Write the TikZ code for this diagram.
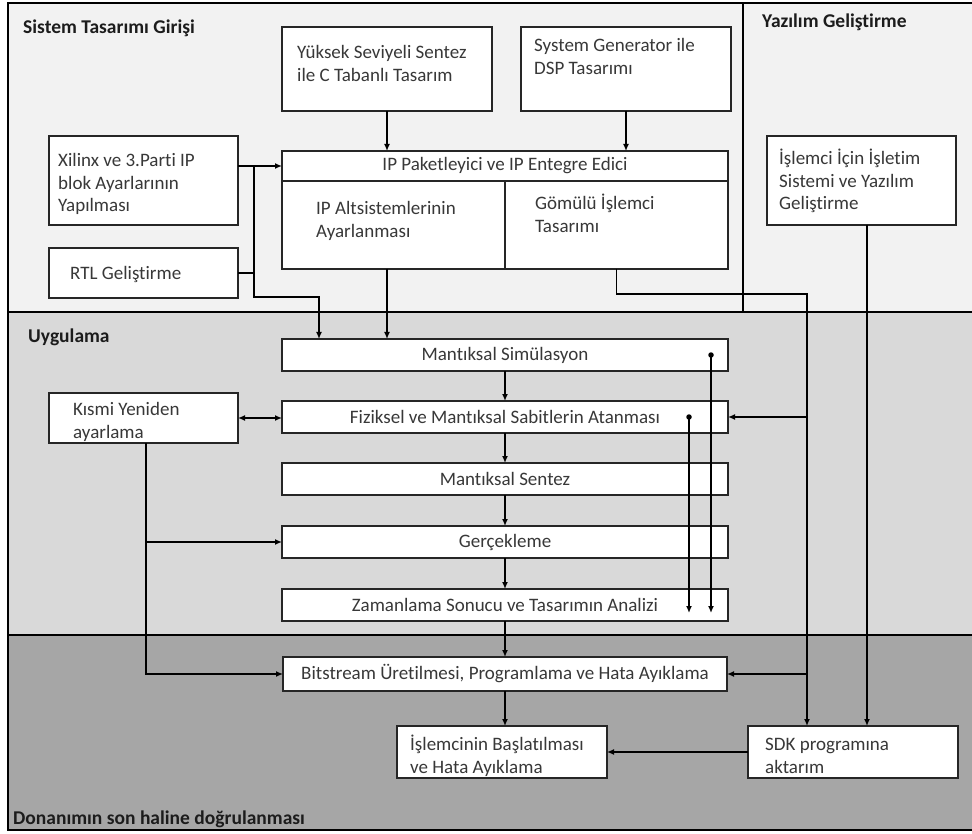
\documentclass[tikz,border=0pt]{standalone}
\usepackage{fontspec}
\setmainfont{Carlito}[Ligatures=NoCommon]
\usetikzlibrary{arrows.meta,calc}
\definecolor{topbg}{HTML}{F2F2F2}
\definecolor{midbg}{HTML}{D9D9D9}
\definecolor{botbg}{HTML}{A6A6A6}
\definecolor{boxtext}{HTML}{383838}
\definecolor{headtext}{HTML}{1C1C1C}
\newcommand\bodysize{\fontsize{19}{22.5}\selectfont}
\newcommand\headsize{\fontsize{19.5}{22}\selectfont\bfseries}

\begin{document}
\begin{tikzpicture}[x=1pt,y=-1pt,
  box/.style={draw=black!85,line width=1.4pt,fill=white,inner sep=0pt,outer sep=0pt,anchor=north west},
  boxtxt/.style={font=\bodysize,text=boxtext,align=left,anchor=north west,inner sep=0pt},
  ctrtxt/.style={font=\bodysize,text=boxtext,inner sep=0pt},
  head/.style={font=\headsize,text=headtext,anchor=west,inner sep=0pt},
  link/.style={line width=1.6pt,draw=black},
  arr/.style={link,-{Latex[length=7pt,width=6pt]}},
  dot/.style={circle,fill=black,inner sep=0pt,minimum size=5.5pt}]

\useasboundingbox (0,0) rectangle (972,834);

% lanes
\fill[white] (0,0) rectangle (972,834);
\fill[topbg] (8,3) rectangle (972,312);
\fill[midbg] (8,312) rectangle (972,635);
\fill[botbg] (8,635) rectangle (972,830);
\draw[line width=1.5pt] (972,3) -- (8,3) -- (8,830) -- (972,830);
\draw[line width=2.6pt] (8,312) -- (972,312);
\draw[line width=1.3pt] (8,635) -- (972,635);
\draw[line width=2.6pt] (743,3) -- (743,312);

% lane titles
\node[head] (t-sistem) at (23,28) {Sistem Tasarımı Girişi};
\node[head] (t-yazilim) at (762,22) {Yazılım Geliştirme};
\node[head] (t-uygulama) at (28,337) {Uygulama};
\node[head] (t-donanim) at (13,819) {Donanımın son haline doğrulanması};

% design entry boxes
\node[box,minimum width=210pt,minimum height=84pt] (yuk) at (282,27) {};
\node[boxtxt] (yuk-t) at (297,43) {\strut Yüksek Seviyeli Sentez\\ile C Tabanlı Tasarım};
\node[box,minimum width=210pt,minimum height=84pt] (sysgen) at (521,27) {};
\node[boxtxt] (sysgen-t) at (534,36) {\strut System Generator ile\\DSP Tasarımı};

\node[box,minimum width=446pt,minimum height=30pt] (iphead) at (282,151) {};
\node[ctrtxt] (iphead-t) at (iphead.center) {IP Paketleyici ve IP Entegre Edici};
\node[box,minimum width=223pt,minimum height=88pt] (ipalt) at (282,181) {};
\node[boxtxt] (ipalt-t) at (316,199) {\strut IP Altsistemlerinin\\Ayarlanması};
\node[box,minimum width=223pt,minimum height=88pt] (ipgom) at (505,181) {};
\node[boxtxt] (ipgom-t) at (535,194) {\strut Gömülü İşlemci\\Tasarımı};

\node[box,minimum width=189pt,minimum height=89pt] (xil) at (49,136) {};
\node[boxtxt] (xil-t) at (58,151) {\strut Xilinx ve 3.Parti IP\\blok Ayarlarının\\Yapılması};
\node[box,minimum width=189pt,minimum height=50pt] (rtl) at (49,248) {};
\node[boxtxt] (rtl-t) at (70,264) {\strut RTL Geliştirme};

\node[box,minimum width=189pt,minimum height=89pt] (islem) at (767,136) {};
\node[boxtxt] (islem-t) at (779,149) {\strut İşlemci İçin İşletim\\Sistemi ve Yazılım\\Geliştirme};

% implementation boxes
\node[box,minimum width=446pt,minimum height=32pt] (msim) at (282,339) {};
\node[ctrtxt] (msim-t) at (msim.center) {Mantıksal Simülasyon};
\node[box,minimum width=446pt,minimum height=32pt] (fiz) at (282,401) {};
\node[ctrtxt] (fiz-t) at (fiz.center) {Fiziksel ve Mantıksal Sabitlerin Atanması};
\node[box,minimum width=446pt,minimum height=32pt] (msent) at (282,463) {};
\node[ctrtxt] (msent-t) at (msent.center) {Mantıksal Sentez};
\node[box,minimum width=446pt,minimum height=32pt] (gerc) at (282,526) {};
\node[ctrtxt] (gerc-t) at (gerc.center) {Gerçekleme};
\node[box,minimum width=446pt,minimum height=32pt] (zam) at (282,589) {};
\node[ctrtxt] (zam-t) at (zam.center) {Zamanlama Sonucu ve Tasarımın Analizi};

\node[box,minimum width=189pt,minimum height=50pt] (kis) at (49,393) {};
\node[boxtxt] (kis-t) at (73,400) {\strut Kısmi Yeniden\\ayarlama};

% hardware verification boxes
\node[box,minimum width=444pt,minimum height=34pt] (bit) at (283,657) {};
\node[ctrtxt] (bit-t) at (bit.center) {Bitstream Üretilmesi, Programlama ve Hata Ayıklama};
\node[box,minimum width=210pt,minimum height=52pt] (isl2) at (397,726) {};
\node[boxtxt] (isl2-t) at (410,735) {\strut İşlemcinin Başlatılması\\ve Hata Ayıklama};
\node[box,minimum width=210pt,minimum height=52pt] (sdk) at (748,726) {};
\node[boxtxt] (sdk-t) at (765,735) {\strut SDK programına\\aktarım};

% connectors: design entry
\draw[arr] (yuk.south) -- (yuk.south |- iphead.north);
\draw[arr] (sysgen.south) -- (sysgen.south |- iphead.north);
\draw[arr] (xil.east |- iphead.west) -- (iphead.west);
\coordinate (jx) at (254,166);
\coordinate (jb) at (254,297);
\coordinate (jr) at (319,297);
\draw[arr] (jx) -- (jb) -- (jr) -- (jr |- msim.north);
\draw[link] (rtl.east) -- (rtl.east -| jx);
\draw[arr] (yuk.south |- ipalt.south) -- (yuk.south |- msim.north);

% embedded processor path to SDK
\coordinate (gb) at ($(ipgom.south)+(0,25)$);
\coordinate (sdkin) at (807,294);
\draw[arr] (ipgom.south) -- (gb) -- (sdkin) -- (sdkin |- sdk.north);
\draw[arr] (sdkin |- fiz.east) -- (fiz.east);
\draw[arr] (sdkin |- bit.east) -- (bit.east);
\draw[arr] ([xshift=5.5pt]islem.south) -- ([xshift=5.5pt]islem.south |- sdk.north);

% implementation flow
\draw[arr] (msim.south) -- (fiz.north);
\draw[arr] (fiz.south) -- (msent.north);
\draw[arr] (msent.south) -- (gerc.north);
\draw[arr] (gerc.south) -- (zam.north);
\draw[arr] (zam.south) -- (zam.south |- bit.north);

\node[dot] (d1) at (711,355) {};
\node[dot] (d2) at (689,417) {};
\draw[arr] (d1.center) -- ($(d1 |- zam.south)+(0,-8)$);
\draw[arr] (d2.center) -- ($(d2 |- zam.south)+(0,-8)$);

% partial reconfiguration
\draw[link,{Latex[length=7pt,width=6pt]}-{Latex[length=7pt,width=6pt]}] (kis.east) -- (kis.east -| fiz.west);
\coordinate (kb) at ([xshift=2.5pt]kis.south);
\draw[arr] (kb) -- (kb |- bit.west) -- (bit.west);
\draw[arr] (kb |- gerc.west) -- (gerc.west);

% hardware verification
\draw[arr] (bit.south) -- (bit.south |- isl2.north);
\draw[arr] (sdk.west) -- (sdk.west -| isl2.east);
\end{tikzpicture}
\end{document}
